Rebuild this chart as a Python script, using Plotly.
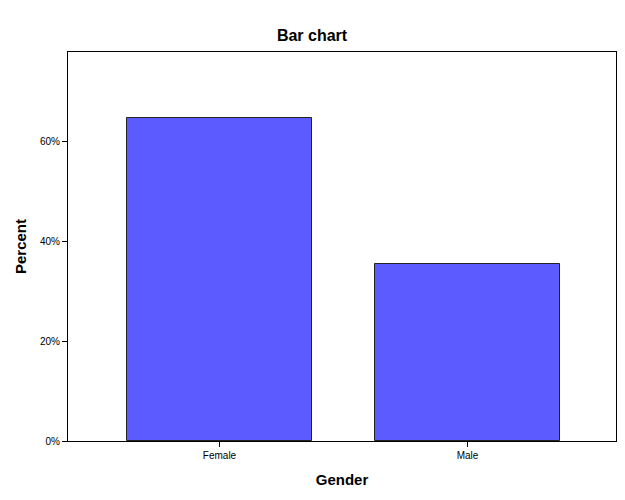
import plotly.graph_objects as go

categories = ["Female", "Male"]
percent = [64.6, 35.4]

x_pos = list(range(len(categories)))

fig = go.Figure(
    go.Bar(
        x=x_pos,
        y=percent,
        width=0.748,
        marker=dict(color="#5B5BFF", line=dict(color="#222222", width=1)),
        hoverinfo="skip",
    )
)

# page body has an 8px default margin; figure size/margins compensate for it
fig.update_layout(
    width=617,
    height=492,
    margin=dict(l=60, r=9, t=44, b=59),
    paper_bgcolor="white",
    plot_bgcolor="white",
    font=dict(family="Liberation Sans, Arial, sans-serif", color="black", size=10),
    title=dict(
        text="<b>Bar chart</b>",
        x=(312 - 8) / 617,
        xref="container",
        xanchor="center",
        y=1 - 27 / 492,
        yanchor="middle",
        font=dict(size=16, color="black"),
    ),
    showlegend=False,
    bargap=0,
    shapes=[
        dict(type="line", xref="paper", yref="paper", x0=1.0036, x1=1.0036,
             y0=0, y1=1, line=dict(color="#9a9a9a", width=1.5))
    ],
)

fig.update_xaxes(
    range=[-0.611, 1.599],
    tickmode="array",
    tickvals=x_pos,
    ticktext=categories,
    ticks="outside",
    ticklen=5,
    tickcolor="black",
    showline=True,
    linecolor="black",
    linewidth=1,
    mirror=True,
    showgrid=False,
    zeroline=False,
    tickfont=dict(size=10),
    title=dict(text="<b>Gender</b>", font=dict(size=15), standoff=14),
)

fig.update_yaxes(
    range=[0, 77.8],
    dtick=20,
    tick0=0,
    ticksuffix="%",
    ticks="outside",
    ticklen=5,
    tickcolor="black",
    showline=True,
    linecolor="black",
    linewidth=1,
    mirror=True,
    showgrid=False,
    zeroline=False,
    tickfont=dict(size=10),
    title=dict(text="<b>Percent</b>", font=dict(size=15), standoff=9),
)

fig.write_html("out.html")
